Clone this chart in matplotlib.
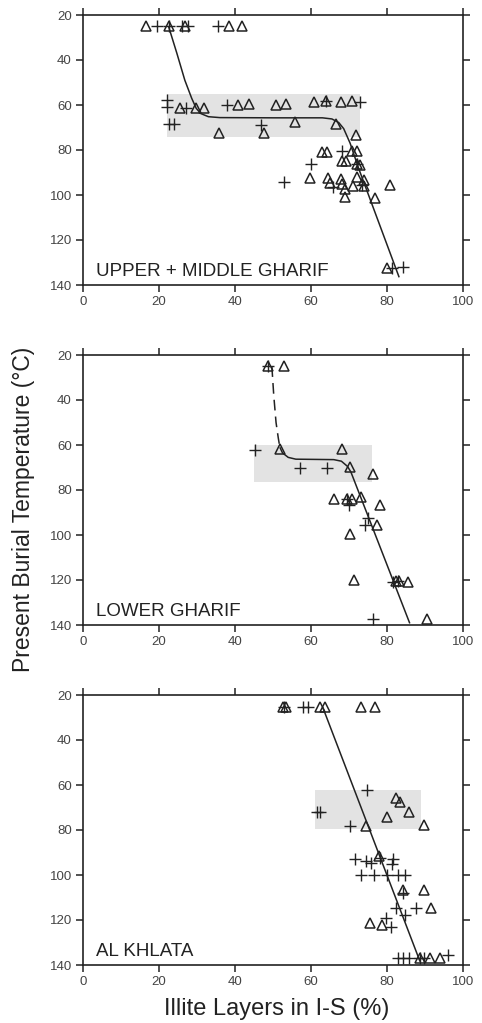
import matplotlib
matplotlib.use("Agg")
import matplotlib.pyplot as plt
from matplotlib.patches import Rectangle

plt.rcParams['font.family'] = ['Liberation Sans', 'DejaVu Sans']

INK = '#222222'

# ---- UPPER + MIDDLE GHARIF ----
p1_tri_x = [16.5, 22.5, 26.8, 38.5, 41.8,
            25.5, 29.7, 31.9, 40.9, 43.7, 50.7, 53.4, 60.9, 63.9, 67.8, 70.7,
            35.9, 47.7, 55.8, 66.5, 71.8,
            62.8, 64.1, 70.7, 72.2,
            68.1, 69.1, 72.2, 73.0,
            59.7, 64.6, 64.9, 67.8, 68.1, 68.9, 68.9, 71.0, 72.2, 73.9, 73.9, 76.8, 80.8,
            79.9]
p1_tri_t = [25, 25, 25, 25, 25,
            61.5, 61.2, 61.5, 59.8, 59.5, 59.8, 59.5, 58.7, 58.4, 58.7, 58.0,
            72.6, 72.3, 67.4, 68.6, 73.3,
            80.7, 80.7, 80.4, 80.4,
            84.9, 84.9, 86.2, 86.5,
            92.6, 92.6, 94.8, 93.0, 95.0, 97.5, 101.0, 96.0, 92.2, 93.3, 96.0, 101.2, 95.6,
            132.6]
p1_plus_x = [19.6, 22.5, 26.0, 27.5, 35.6,
             22.2, 22.2, 27.1, 37.8, 63.9, 72.9,
             22.7, 23.9, 46.8,
             68.1, 59.9, 72.2,
             53.0, 65.9, 73.5,
             81.2, 84.1]
p1_plus_t = [25, 25, 25, 25, 25,
             57.8, 60.7, 61.5, 60.0, 58.4, 58.7,
             68.6, 68.6, 68.9,
             80.3, 86.2, 86.2,
             94.1, 96.3, 95.5,
             132.6, 132.2]
p1_curve_x = [22.5, 24.7, 26.8, 28.6, 29.8, 31.0, 33.0, 36.0, 50.0, 63.0, 65.5, 67.3, 68.6, 70.3, 72.5, 83.2]
p1_curve_t = [25.0, 37.0, 49.0, 57.0, 61.5, 63.8, 65.2, 65.6, 65.7, 65.7, 66.2, 67.8, 70.5, 77.0, 88.0, 136.6]
p1_box = (22, 55, 73, 74)

# ---- LOWER GHARIF ----
p2_tri_x = [48.8, 52.9, 51.8, 68.2, 70.3, 76.2,
            66.0, 69.4, 70.7, 73.1, 78.2, 77.5, 70.3, 71.3, 82.5, 83.2, 85.6, 90.6]
p2_tri_t = [25, 25, 61.6, 61.6, 69.8, 73.1,
            84.1, 84.1, 84.1, 83.1, 86.6, 95.4, 99.5, 120.1, 120.5, 120.5, 120.9, 137.5]
p2_plus_x = [48.8, 45.3, 57.1, 64.1, 69.4, 70.1, 75.1, 74.2, 81.5, 82.8, 76.4]
p2_plus_t = [25, 62.0, 70.4, 70.3, 84.1, 86.6, 92.5, 95.4, 120.9, 120.5, 137.5]
p2_dash_x = [49.7, 50.2, 50.8, 51.4, 51.8]
p2_dash_t = [25.0, 38.0, 50.0, 57.0, 61.0]
p2_curve_x = [51.8, 52.5, 54.0, 56.0, 66.0, 68.0, 69.6, 70.5, 86.0]
p2_curve_t = [61.0, 63.5, 65.5, 66.3, 66.5, 67.2, 69.5, 72.0, 139.3]
p2_box = (45, 60, 76, 76.5)

# ---- AL KHLATA ----
p3_tri_x = [52.5, 53.5, 62.4, 63.7, 73.1, 76.8,
            82.5, 83.4, 85.8, 80.1, 74.5, 89.7,
            77.9, 84.1, 89.7, 91.5, 75.5, 78.6,
            88.7, 91.3, 93.9]
p3_tri_t = [25.3, 25.3, 25.3, 25.3, 25.3, 25.3,
            65.7, 67.5, 72.0, 74.3, 78.3, 77.8,
            91.6, 106.6, 106.6, 114.8, 121.3, 122.4,
            136.8, 136.8, 136.8]
p3_plus_x = [53.0, 57.8, 59.3,
             74.8, 61.5, 62.4, 70.3,
             71.6, 74.5, 75.7, 78.2, 81.7, 81.2,
             73.2, 76.7, 79.9, 82.8, 84.7,
             84.1, 82.3, 87.6, 84.7, 79.7, 81.0,
             83.0, 84.3, 85.9, 88.7, 89.7, 96.1]
p3_plus_t = [25.3, 25.3, 25.3,
             62.0, 72.0, 72.0, 78.2,
             92.9, 93.6, 94.8, 92.5, 92.9, 95.1,
             100.1, 100.1, 100.1, 100.1, 100.1,
             108.0, 114.6, 114.5, 117.7, 119.2, 123.2,
             136.8, 136.8, 136.8, 136.8, 136.8, 135.7]
p3_curve_x = [63.1, 88.7]
p3_curve_t = [25.5, 138.5]
p3_box = (61, 62, 89, 79.5)

x_ticks = [0, 20, 40, 60, 80, 100]
y_ticks = [20, 40, 60, 80, 100, 120, 140]


def panel(ax, label, box, tx, tt, px, pt, curves):
    x0, t0, x1, t1 = box
    ax.add_patch(Rectangle((x0, t0), x1 - x0, t1 - t0, facecolor='#e3e3e3',
                           edgecolor='none', zorder=1))
    for cx, ct, ls in curves:
        ax.plot(cx, ct, color=INK, lw=1.1, ls=ls, dashes=(7, 4) if ls == '--' else (None, None),
                zorder=3, solid_capstyle='butt')
    ax.plot(tx, tt, ls='none', marker='^', ms=6.5, mfc='none', mec=INK, mew=1.1, zorder=4)
    ax.plot(px, pt, ls='none', marker='+', ms=8, mec=INK, mew=1.0, zorder=4)
    ax.set_xlim(0, 100)
    ax.set_ylim(140, 20)
    ax.set_xticks(x_ticks)
    ax.set_yticks(y_ticks)
    ax.tick_params(direction='out', length=5, width=1.1, top=True, right=True,
                   labelsize=9.5, color=INK, labelcolor='#444444', pad=3)
    for s in ax.spines.values():
        s.set_linewidth(1.2)
        s.set_color(INK)
    ax.text(3.5, 134, label, fontsize=13.5, color=INK, ha='left', va='center')


fig = plt.figure(figsize=(4.82, 10.23), dpi=100)
left = 83 / 482
width = 380 / 482
h = 270 / 1023

ax1 = fig.add_axes([left, 1 - 285 / 1023, width, h])
panel(ax1, 'UPPER + MIDDLE GHARIF', p1_box, p1_tri_x, p1_tri_t, p1_plus_x, p1_plus_t,
      [(p1_curve_x, p1_curve_t, '-')])

ax2 = fig.add_axes([left, 1 - 625 / 1023, width, h])
panel(ax2, 'LOWER GHARIF', p2_box, p2_tri_x, p2_tri_t, p2_plus_x, p2_plus_t,
      [(p2_dash_x, p2_dash_t, '--'), (p2_curve_x, p2_curve_t, '-')])

ax3 = fig.add_axes([left, 1 - 965 / 1023, width, h])
panel(ax3, 'AL KHLATA', p3_box, p3_tri_x, p3_tri_t, p3_plus_x, p3_plus_t,
      [(p3_curve_x, p3_curve_t, '-')])

fig.text(0.048, 0.502, 'Present Burial Temperature (\u00b0C)', rotation=90, fontsize=16.5,
         color=INK, ha='center', va='center')
fig.text(277 / 482, 1 - 1009 / 1023, 'Illite Layers in I-S (%)', fontsize=17,
         color=INK, ha='center', va='center')

fig.savefig('out.png', dpi=100)
